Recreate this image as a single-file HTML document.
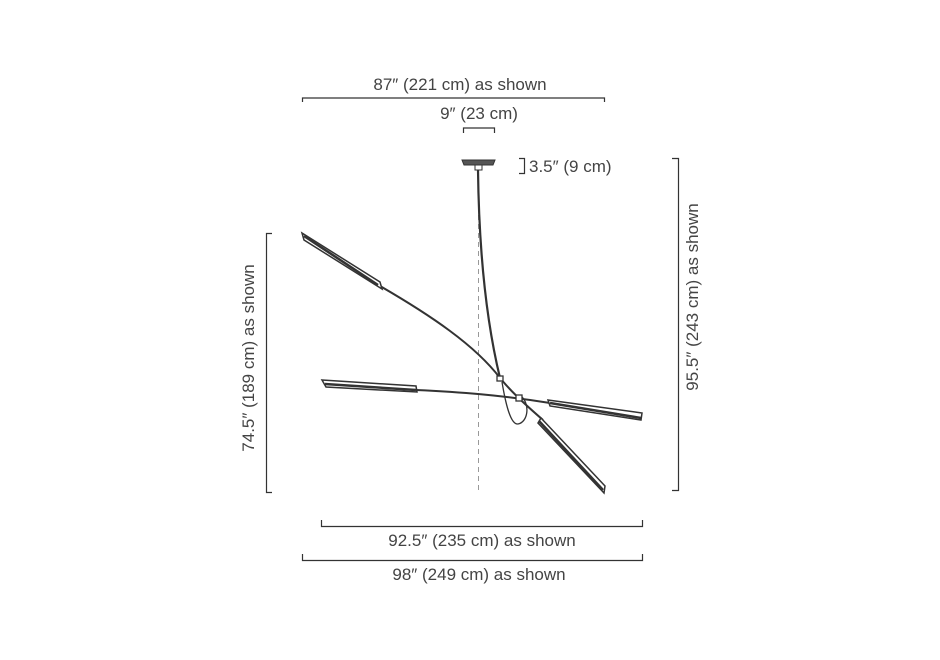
<!DOCTYPE html>
<html><head><style>
html,body{margin:0;padding:0;background:#fff;}
svg{display:block;}
text{font-family:"Liberation Sans",sans-serif;font-size:17px;fill:#444;}
</style></head><body>
<svg width="940" height="660" viewBox="0 0 940 660" xmlns="http://www.w3.org/2000/svg">
<g stroke="#333" stroke-width="1.2" fill="none">
<!-- top dims -->
<path d="M302.5 102V98H604.5V102"/>
<path d="M463.5 133V128H494.5V133"/>
<path d="M519 158.5H524.5V173.5H519"/>
<!-- right vertical -->
<path d="M672 158.5H678.5V490.5H672"/>
<!-- left vertical -->
<path d="M272 233.5H266.5V492.5H272"/>
<!-- bottom -->
<path d="M321.5 520V526.5H642.5V520"/>
<path d="M302.5 554V560.5H642.5V554"/>
</g>
<!-- dashed center -->
<line x1="478.5" y1="170" x2="478.5" y2="492" stroke="#999" stroke-width="1" stroke-dasharray="5,4"/>
<!-- canopy -->
<path d="M462 160H495L493 165H464Z" fill="#555" stroke="#333"/>
<rect x="475" y="165" width="7" height="5" fill="#fff" stroke="#333"/>
<g stroke="#333" fill="none">
<!-- stem -->
<path d="M478 170C479 250 486 320 500 378" stroke-width="2.2"/>
<!-- arm 1 rod -->
<path d="M380 286C430 315 475 345 500 378C510 390 520 400 543 420" stroke-width="2"/>
<!-- arm 1 shades -->
<path d="M302 233L380 282L382 289L304 240Z" fill="#fff" stroke-width="1.5"/>
<path d="M304 236L378 285" stroke-width="2.5"/>
<path d="M541 418L605 486L604 493L538 423Z" fill="#fff" stroke-width="1.5"/>
<path d="M539 421L603 490" stroke-width="2.5"/>
<!-- arm 2 rod -->
<path d="M416 390C460 392 500 395 550 403" stroke-width="2"/>
<path d="M322 380L416 386L417 392L326 387Z" fill="#fff" stroke-width="1.5"/>
<path d="M325 384L416 390" stroke-width="2.5"/>
<path d="M548 400L642 413L641 420L550 406Z" fill="#fff" stroke-width="1.5"/>
<path d="M550 403L641 418" stroke-width="2.5"/>
<!-- loop -->
<path d="M502 382C505 400 510 425 518 424C528 422 530 405 522 397" stroke-width="1.3"/>
<rect x="497" y="376" width="6" height="5" fill="#fff" stroke-width="1.3"/>
<rect x="516" y="395" width="6" height="6" fill="#fff" stroke-width="1.3"/>
</g>
<text x="460" y="90" text-anchor="middle">87″ (221 cm) as shown</text>
<text x="479" y="119" text-anchor="middle">9″ (23 cm)</text>
<text x="529" y="172">3.5″ (9 cm)</text>
<text x="482" y="546" text-anchor="middle">92.5″ (235 cm) as shown</text>
<text x="479" y="580" text-anchor="middle">98″ (249 cm) as shown</text>
<text transform="translate(698,297) rotate(-90)" text-anchor="middle">95.5″ (243 cm) as shown</text>
<text transform="translate(254,358) rotate(-90)" text-anchor="middle">74.5″ (189 cm) as shown</text>
</svg>
</body></html>
